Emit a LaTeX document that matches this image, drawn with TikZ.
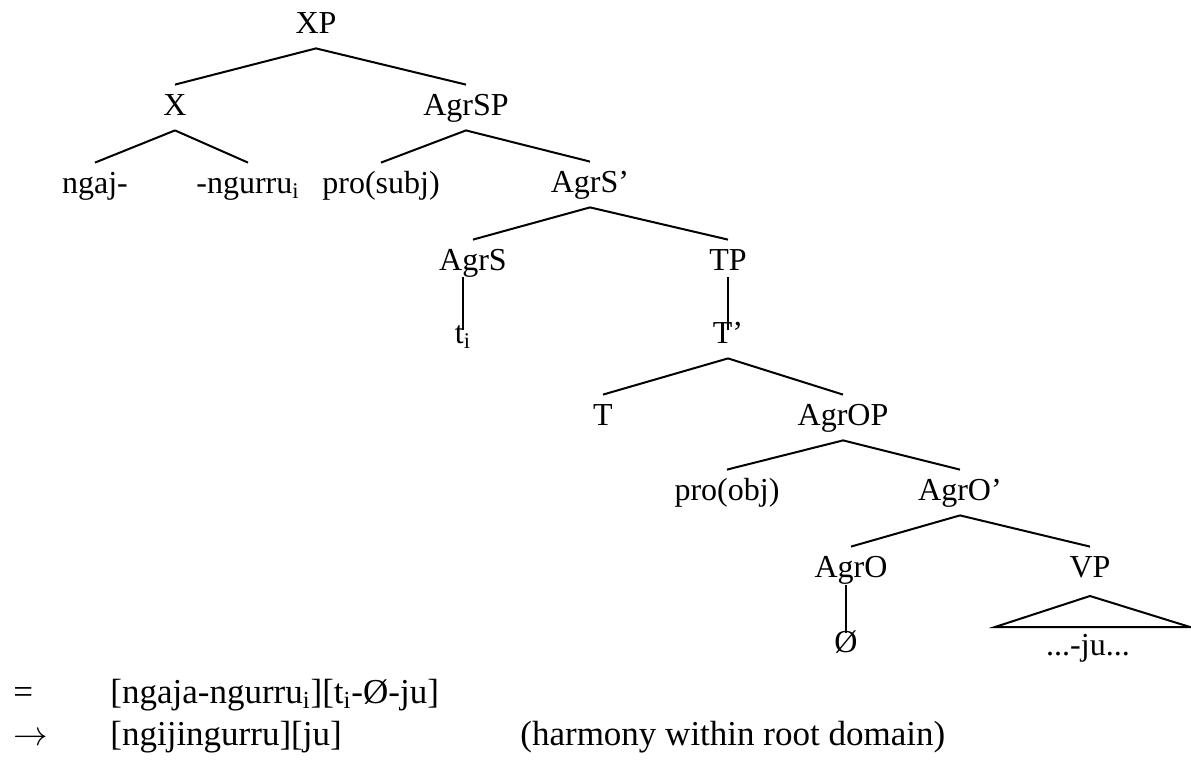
\documentclass[tikz,border=0pt]{standalone}
\usepackage{fontspec}
\setmainfont{Liberation Serif}
\tikzset{
  cat/.style={anchor=base, inner sep=0pt, text height=15pt, text depth=7.5pt,
    font=\fontsize{16}{19}\selectfont},
  gloss/.style={anchor=base west, inner sep=0pt, font=\fontsize{17.5}{21}\selectfont},
  branch/.style={line width=1pt},
}
\begin{document}
\begin{tikzpicture}[x=0.5pt,y=-0.5pt]
        \useasboundingbox (0,0) rectangle (1191,760);
        % tree
        \node[cat] (XP) at (316,33) {XP};
        \node[cat] (X) at (175,115) {X};
        \node[cat] (AgrSP) at (466,115) {AgrSP};
        \node[cat] (ngaj) at (95,193) {ngaj-};
        \node[cat] (ngurru) at (248,193) {-ngurru\textsubscript{i}};
        \node[cat] (prosubj) at (381,193) {pro(subj)};
        \node[cat] (AgrSbar) at (590,192) {AgrS’};
        \node[cat] (AgrS) at (473,270) {AgrS};
        \node[cat] (TP) at (728,270) {TP};
        \node[cat] (ti) at (463,343) {t\textsubscript{i}};
        \node[cat] (Tbar) at (728,343) {T’};
        \node[cat] (T) at (603,425) {T};
        \node[cat] (AgrOP) at (843,425) {AgrOP};
        \node[cat] (proobj) at (727,500) {pro(obj)};
        \node[cat] (AgrObar) at (960,500) {AgrO’};
        \node[cat] (AgrO) at (851,577) {AgrO};
        \node[cat] (VP) at (1090,577) {VP};
        \node[cat] (null) at (846,652) {Ø};
        \node[cat] (ju) at (1088,655) {...-ju...};
        \draw[branch] (XP.south) -- (X.north);
        \draw[branch] (XP.south) -- (AgrSP.north);
        \draw[branch] (X.south) -- (ngaj.north);
        \draw[branch] (X.south) -- (ngurru.north);
        \draw[branch] (AgrSP.south) -- (prosubj.north);
        \draw[branch] (AgrSP.south) -- (AgrSbar.north);
        \draw[branch] (AgrSbar.south) -- (AgrS.north);
        \draw[branch] (AgrSbar.south) -- (TP.north);
        \draw[branch] ([yshift=-3.5pt]ti.base |- AgrS.base) -- ([yshift=6.5pt]ti.base);
        \draw[branch] ([yshift=-3.5pt]TP.base) -- ([yshift=6.5pt]Tbar.base);
        \draw[branch] (Tbar.south) -- (T.north);
        \draw[branch] (Tbar.south) -- (AgrOP.north);
        \draw[branch] (AgrOP.south) -- (proobj.north);
        \draw[branch] (AgrOP.south) -- (AgrObar.north);
        \draw[branch] (AgrObar.south) -- (AgrO.north);
        \draw[branch] (AgrObar.south) -- (VP.north);
        \draw[branch] ([yshift=-4pt]null.base |- AgrO.base) -- ([yshift=9.5pt]null.base);
        \draw[branch] ([yshift=-9.5pt]VP.base) -- ([shift={(-46.5pt,14pt)}]ju.base)
          -- ([shift={(51pt,14pt)}]ju.base) -- cycle;
        % derivation
        \node[gloss] (eq) at (13,703) {=};
        \node[gloss] (line1) at (110,703) {[ngaja-ngurru\textsubscript{i}][t\textsubscript{i}-Ø-ju]};
        \node[gloss] (arr) at (13,745) {$\rightarrow$};
        \node[gloss] (line2) at (110,745) {[ngijingurru][ju]};
        \node[gloss] (note) at (520,745) {(harmony within root domain)};
      \end{tikzpicture}
\end{document}
